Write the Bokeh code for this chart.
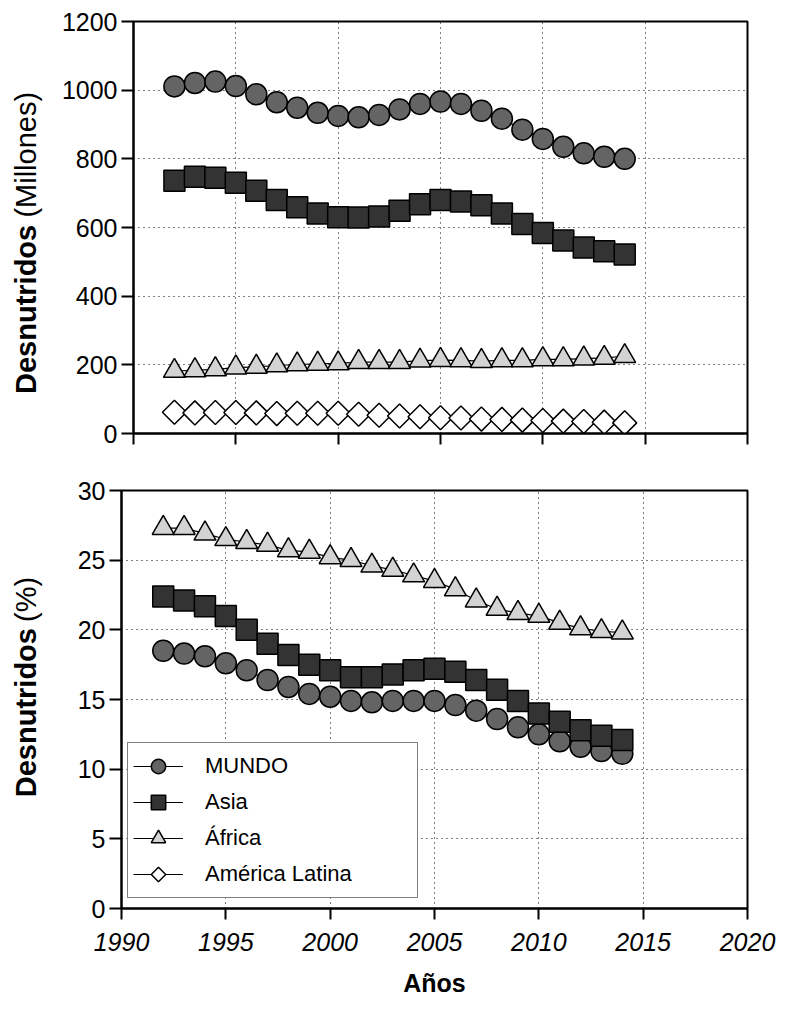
import math
from bokeh.plotting import figure
from bokeh.layouts import column, row
from bokeh.models import Range1d, FixedTicker, Legend, LegendItem, ColumnDataSource
from bokeh.core.properties import value
from bokeh.embed import file_html
from bokeh.resources import INLINE

FONT = "Liberation Sans"

# ---------------- data ----------------
years = list(range(1992, 2015))

# Top panel: undernourished people (millions)
mundo_mill = [1011, 1021, 1025, 1012, 988, 965, 949, 934, 925, 921, 928, 944,
              960, 967, 960, 940, 917, 885, 858, 835, 816, 806, 800]
asia_mill = [736, 748, 745, 730, 707, 680, 659, 641, 630, 629, 632, 649,
             668, 680, 676, 665, 641, 610, 584, 562, 542, 531, 521]
africa_mill = [182, 184, 187, 192, 194, 198, 201, 203, 204, 208, 208, 208,
               212, 214, 213, 211, 213, 213, 216, 216, 218, 220, 225]
latam_mill = [62, 60, 61, 61, 60, 58, 59, 59, 59, 56, 53, 51,
              49, 46, 45, 42, 41, 39, 38, 36, 35, 33, 31]

# Bottom panel: undernourished (%)  (no Latin America series is drawn there)
mundo_pct = [18.5, 18.3, 18.1, 17.6, 17.1, 16.4, 15.9, 15.4, 15.2, 14.9, 14.8, 14.9,
             14.9, 14.9, 14.6, 14.2, 13.6, 13.0, 12.5, 12.0, 11.6, 11.3, 11.1]
asia_pct = [22.4, 22.1, 21.7, 21.0, 20.0, 19.0, 18.2, 17.5, 17.1, 16.6, 16.6, 16.8,
            17.1, 17.2, 17.0, 16.4, 15.7, 14.9, 14.0, 13.4, 12.8, 12.4, 12.1]
africa_pct = [27.3, 27.3, 26.9, 26.5, 26.3, 26.1, 25.7, 25.6, 25.2, 25.0, 24.6, 24.3,
              23.9, 23.5, 22.9, 22.1, 21.5, 21.2, 21.0, 20.5, 20.1, 19.9, 19.8]
latam_pct = [float("nan")] * len(years)

x_ticks = [1990, 1995, 2000, 2005, 2010, 2015, 2020]
top_yticks = [0, 200, 400, 600, 800, 1000, 1200]
bot_yticks = [0, 5, 10, 15, 20, 25, 30]

series_names = ["MUNDO", "Asia", "África", "América Latina"]

STYLES = {
    "MUNDO": dict(marker="circle", size=21, angle=0.0, fill="#646464"),
    "Asia": dict(marker="square", size=21, angle=0.0, fill="#333333"),
    "África": dict(marker="triangle", size=22, angle=0.0, fill="#d3d3d3"),
    "América Latina": dict(marker="square", size=17, angle=math.pi / 4, fill="white"),
}

TICK_FONT_SIZE = "25px"
TITLE_FONT_SIZE = "29px"


def base_fig(height, ymax, yticks, left, top, bottom):
    p = figure(width=721, height=height, title=None,
               x_range=Range1d(1990, 2020), y_range=Range1d(0, ymax),
               output_backend="svg", toolbar_location=None,
               min_border_left=left, min_border_right=32,
               min_border_top=top, min_border_bottom=bottom)
    p.background_fill_color = "white"
    p.border_fill_color = "white"
    p.outline_line_color = "black"
    p.outline_line_width = 2
    p.outline_line_alpha = 1
    for ax in (p.xaxis[0], p.yaxis[0]):
        ax.axis_line_color = "black"
        ax.axis_line_width = 2
        ax.major_tick_line_color = "black"
        ax.major_tick_line_width = 2
        ax.major_tick_in = 0
        ax.minor_tick_line_color = None
        ax.major_label_text_font = FONT
        ax.major_label_text_color = "black"
        ax.major_label_text_font_size = TICK_FONT_SIZE
    p.xaxis.ticker = FixedTicker(ticks=x_ticks)
    p.yaxis.ticker = FixedTicker(ticks=yticks)
    p.xaxis.major_tick_out = 11
    p.yaxis.major_tick_out = 12
    p.yaxis.major_label_standoff = 4
    p.xaxis.major_label_standoff = 13
    p.xaxis.major_label_text_font_style = "italic"
    for g in (p.xgrid[0], p.ygrid[0]):
        g.grid_line_color = "black"
        g.grid_line_dash = "1 4"
        g.grid_line_width = 1
    return p


def add_series(p, xs, ys, name):
    st = STYLES[name]
    src = ColumnDataSource(dict(x=xs, y=ys))
    ln = p.line("x", "y", source=src, line_color="black", line_width=1.2)
    sc = p.scatter("x", "y", source=src, marker=st["marker"], size=st["size"],
                   angle=st["angle"], fill_color=st["fill"], line_color="black",
                   line_width=1.5)
    return [ln, sc]


def label_fig(height, bold_text, normal_text, ysplit, xc=25, size=TITLE_FONT_SIZE):
    """Narrow strip left of a panel carrying the two-style y title."""
    f = figure(width=58, height=height, title=None,
               x_range=Range1d(0, 58), y_range=Range1d(0, height),
               x_axis_type=None, y_axis_type=None,
               output_backend="svg", toolbar_location=None,
               min_border_left=0, min_border_right=0,
               min_border_top=0, min_border_bottom=0)
    f.outline_line_color = None
    f.background_fill_color = "white"
    f.border_fill_color = "white"
    f.text(x=[xc], y=[ysplit - 4], text=[bold_text], angle=math.pi / 2,
           text_align="right", text_baseline="middle", text_font=value(FONT),
           text_font_style="bold", text_font_size=size, text_color="black")
    f.text(x=[xc], y=[ysplit + 4], text=[normal_text], angle=math.pi / 2,
           text_align="left", text_baseline="middle", text_font=value(FONT),
           text_font_style="normal", text_font_size=size, text_color="black")
    return f


# ---------------- top panel ----------------
p1 = base_fig(458, 1200, top_yticks, left=73, top=21, bottom=25)
p1.xaxis.major_label_overrides = {t: "" for t in x_ticks}
p1.xaxis.major_label_text_font_size = "0px"
p1.xaxis.major_label_standoff = 0

add_series(p1, years, mundo_mill, "MUNDO")
add_series(p1, years, asia_mill, "Asia")
add_series(p1, years, africa_mill, "África")
add_series(p1, years, latam_mill, "América Latina")
lab1 = label_fig(458, "Desnutridos", "(Millones)", ysplit=236)

# ---------------- bottom panel ----------------
p2 = base_fig(550, 30, bot_yticks, left=63, top=32, bottom=100)

r_m = add_series(p2, years, mundo_pct, "MUNDO")
r_a = add_series(p2, years, asia_pct, "Asia")
r_f = add_series(p2, years, africa_pct, "África")

# Latin America has no % series in this panel; an all-NaN renderer only feeds the legend
src_l = ColumnDataSource(dict(x=years, y=latam_pct))
ln_l = p2.line("x", "y", source=src_l, line_color="black", line_width=1.2)
try:
    mk_l = p2.ngon(x="x", y="y", source=src_l, radius=0.5, n=4,
                   fill_color="white", line_color="black", line_width=1.5)
except Exception:
    mk_l = p2.scatter("x", "y", source=src_l, marker="diamond", size=22,
                      fill_color="white", line_color="black", line_width=1.5)
r_l = [ln_l, mk_l]

lab2 = label_fig(550, "Desnutridos", "(%)", ysplit=373)

p2.xaxis.axis_label = "Años"
p2.xaxis.axis_label_text_font = FONT
p2.xaxis.axis_label_text_font_style = "bold"
p2.xaxis.axis_label_text_font_size = "25px"
p2.xaxis.axis_label_text_color = "black"
p2.xaxis.axis_label_standoff = 15

legend = Legend(items=[LegendItem(label=n, renderers=r)
                       for n, r in zip(series_names, [r_m, r_a, r_f, r_l])],
                location=(6, 10))
legend.border_line_color = "black"
legend.border_line_width = 1.5
legend.background_fill_color = "white"
legend.background_fill_alpha = 1
legend.padding = 5
legend.spacing = 0
legend.margin = 0
legend.glyph_width = 50
legend.glyph_height = 36
legend.label_standoff = 22
legend.label_width = 207
legend.label_text_font = FONT
legend.label_text_font_size = "22px"
legend.label_text_color = "black"
p2.add_layout(legend)

layout = column(row(lab1, p1), row(lab2, p2))
open("out.html", "w").write(file_html(layout, INLINE))
